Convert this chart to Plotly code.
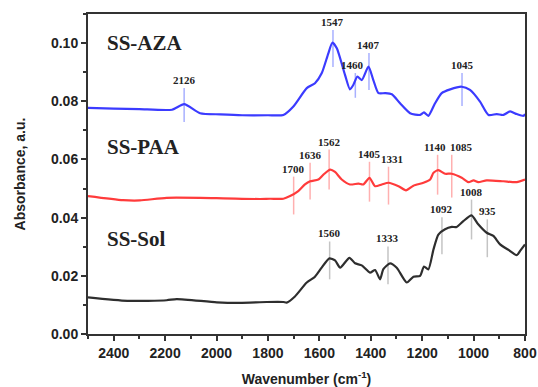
import plotly.graph_objects as go

# ---- data ----
aza_wn = [2500, 2400, 2300, 2173, 2126, 2064, 1985, 1900, 1800, 1740, 1701, 1649, 1617, 1591, 1565,
          1549, 1532, 1500, 1481, 1468, 1452, 1435, 1409, 1390, 1370, 1344, 1318, 1286, 1247, 1208,
          1193, 1176, 1150, 1124, 1091, 1046, 1014, 975, 942, 910, 884, 858, 832, 806, 800]
aza_abs = [0.0777, 0.0775, 0.0773, 0.0771, 0.0790, 0.0759, 0.0755, 0.0752, 0.0752, 0.0753, 0.0782,
           0.0845, 0.0862, 0.0896, 0.0965, 0.1002, 0.0982, 0.0890, 0.0841, 0.0856, 0.0885, 0.0873,
           0.0919, 0.0873, 0.0828, 0.0828, 0.0824, 0.0793, 0.0759, 0.0753, 0.0762, 0.0750, 0.0793,
           0.0828, 0.0841, 0.0850, 0.0839, 0.0799, 0.0753, 0.0756, 0.0753, 0.0765, 0.0756, 0.0750, 0.0756]

paa_wn = [2500, 2364, 2298, 2194, 2000, 1831, 1792, 1740, 1714, 1682, 1656, 1636, 1604, 1584, 1558,
          1539, 1513, 1481, 1448, 1429, 1405, 1383, 1357, 1331, 1292, 1263, 1234, 1195, 1169, 1156,
          1137, 1111, 1085, 1046, 1020, 1000, 982, 949, 884, 832, 800]
paa_abs = [0.0474, 0.0460, 0.0459, 0.0468, 0.0467, 0.0464, 0.0465, 0.0465, 0.0474, 0.0491, 0.0514,
           0.0525, 0.0531, 0.0548, 0.0565, 0.0557, 0.0531, 0.0514, 0.0517, 0.0514, 0.0537, 0.0508,
           0.0514, 0.0520, 0.0508, 0.0494, 0.0510, 0.0520, 0.0531, 0.0554, 0.0563, 0.0551, 0.0551,
           0.0537, 0.0522, 0.0528, 0.0522, 0.0528, 0.0525, 0.0522, 0.0531]

sol_wn = [2500, 2347, 2194, 2155, 1999, 1909, 1805, 1740, 1727, 1695, 1649, 1617, 1591, 1561, 1539,
          1519, 1483, 1461, 1435, 1403, 1383, 1364, 1351, 1325, 1299, 1260, 1234, 1208, 1193, 1176,
          1156, 1137, 1111, 1085, 1066, 1040, 1008, 982, 949, 923, 897, 864, 832, 819, 800]
sol_abs = [0.0126, 0.0114, 0.0116, 0.0120, 0.0109, 0.0107, 0.0110, 0.0110, 0.0108, 0.0129, 0.0177,
           0.0197, 0.0228, 0.0260, 0.0253, 0.0228, 0.0262, 0.0243, 0.0236, 0.0211, 0.0220, 0.0188,
           0.0223, 0.0243, 0.0228, 0.0177, 0.0197, 0.0200, 0.0232, 0.0222, 0.0291, 0.0342, 0.0360,
           0.0368, 0.0368, 0.0388, 0.0408, 0.0377, 0.0348, 0.0337, 0.0308, 0.0289, 0.0271, 0.0286, 0.0308]

# peak labels: wavenumber, top and bottom of the marker line (absorbance units)
aza_peaks = [2126, 1547, 1460, 1407, 1045]
aza_peak_top = [0.0846, 0.1045, 0.0897, 0.0966, 0.0897]
aza_peak_bot = [0.0729, 0.0918, 0.0812, 0.0839, 0.0784]

paa_peaks = [1700, 1636, 1562, 1405, 1331, 1140, 1085]
paa_peak_top = [0.0541, 0.0589, 0.0634, 0.0592, 0.0575, 0.0616, 0.0616]
paa_peak_bot = [0.0411, 0.0462, 0.0497, 0.0455, 0.0445, 0.0479, 0.0469]

sol_peaks = [1560, 1333, 1092, 1008, 935]
sol_peak_top = [0.0318, 0.0301, 0.0401, 0.0462, 0.0394]
sol_peak_bot = [0.0188, 0.0171, 0.0274, 0.0325, 0.0264]

series_names = ["SS-AZA", "SS-PAA", "SS-Sol"]
series_label_y = [0.1000, 0.0644, 0.0325]
series_label_x = 2434

x_ticks = [2400, 2200, 2000, 1800, 1600, 1400, 1200, 1000, 800]
y_ticks = [0.00, 0.02, 0.04, 0.06, 0.08, 0.10]

# small pixel nudges of peak labels / marker lines, as drawn in the original
label_nudge = {1085: 10, 1140: -3, 1092: -8, 1460: -3, 935: -3, 1331: 3}
line_nudge = {1092: -8, 935: -3}

# ---- figure ----
fig = go.Figure()
series = [
    (aza_wn, aza_abs, "#3b3bff", "#a8b0ff", aza_peaks, aza_peak_top, aza_peak_bot),
    (paa_wn, paa_abs, "#ff3b3b", "#ffb0b0", paa_peaks, paa_peak_top, paa_peak_bot),
    (sol_wn, sol_abs, "#2e2e2e", "#c4c4c4", sol_peaks, sol_peak_top, sol_peak_bot),
]
shapes = []
annotations = []
for (wx, wy, col, light, pk, pt, pb), name, ly in zip(series, series_names, series_label_y):
    for p, t, b in zip(pk, pt, pb):
        dx = line_nudge.get(p, 0)
        shapes.append(dict(type="line", xref="x", yref="y", xsizemode="pixel", xanchor=p,
                           x0=dx, x1=dx, y0=b, y1=t,
                           line=dict(color=light, width=1.5), layer="below"))
        annotations.append(dict(x=p, y=t, xref="x", yref="y", text=str(p), showarrow=False,
                                yanchor="bottom", xanchor="center", xshift=label_nudge.get(p, 0),
                                font=dict(family="Liberation Serif", size=11, color="#222",
                                          weight="bold")))
    fig.add_trace(go.Scatter(x=wx, y=wy, mode="lines", name=name,
                             line=dict(color=col, width=2.2, shape="spline", smoothing=0.6),
                             showlegend=False))
    annotations.append(dict(x=series_label_x, y=ly, xref="x", yref="y", text="<b>%s</b>" % name,
                            showarrow=False, xanchor="left", yanchor="middle",
                            font=dict(family="Liberation Serif", size=21, color="#222")))

tick_font = dict(family="Liberation Sans", size=14, color="#222", weight="bold")
title_font = dict(family="Liberation Sans", size=14, color="#222", weight="bold")
axis_common = dict(showline=True, linewidth=2, linecolor="#333", mirror=True, showgrid=False,
                   zeroline=False, ticks="outside", ticklen=5, tickwidth=1.5, tickcolor="#333",
                   tickfont=tick_font, automargin=False)

fig.update_layout(
    width=538, height=387,
    margin=dict(l=88, r=13, t=14, b=53),
    paper_bgcolor="white", plot_bgcolor="white",
    shapes=shapes, annotations=annotations,
    xaxis=dict(range=[2500, 800], tickvals=x_ticks, ticktext=[str(v) for v in x_ticks],
               minor=dict(dtick=100, ticks="outside", ticklen=3, tickcolor="#333", tickwidth=1.5),
               title=dict(text="Wavenumber (cm<sup>-1</sup>)", standoff=16, font=title_font),
               **axis_common),
    yaxis=dict(range=[0, 0.11], tickvals=y_ticks, ticktext=["%.2f" % v for v in y_ticks],
               minor=dict(dtick=0.01, ticks="outside", ticklen=3, tickcolor="#333", tickwidth=1.5),
               title=dict(text="Absorbance, a.u.", standoff=22, font=title_font),
               **axis_common),
)

fig.write_html("out.html")
